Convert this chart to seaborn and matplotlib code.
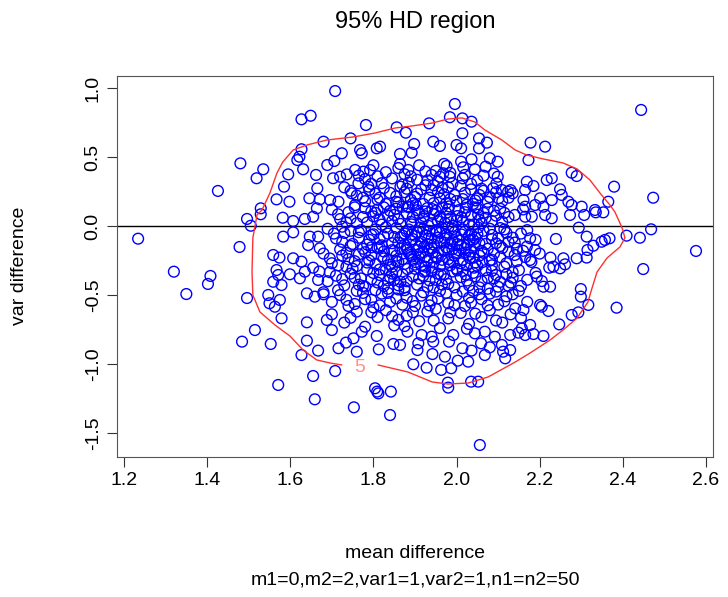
import matplotlib
matplotlib.use("Agg")
import matplotlib.pyplot as plt
import seaborn as sns
import pandas as pd

# ---- data (mean difference, var difference) ----
tails = [(1.480,0.454),(1.426,0.254),(1.496,0.051),(1.234,-0.092),(1.478,-0.152),(1.320,-0.331),
         (1.408,-0.362),(1.402,-0.420),(1.350,-0.493),(1.496,-0.522),(1.484,-0.838),
         (2.444,0.841),(2.473,0.205),(2.468,-0.024),(2.441,-0.085),(2.576,-0.181),(2.449,-0.312)]

upper_left = [(1.708,0.978),(1.627,0.773),(1.649,0.799),(1.782,0.732),(1.745,0.635),(1.680,0.611),
              (1.627,0.556),(1.622,0.502),(1.617,0.478),(1.631,0.411),(1.724,0.527),(1.768,0.551),
              (1.772,0.527),(1.808,0.563),(1.535,0.411),(1.519,0.346),(1.595,0.374),(1.585,0.285),
              (1.662,0.370),(1.689,0.442),(1.706,0.471),(1.665,0.273),(1.703,0.346),(1.720,0.357),
              (1.736,0.374),(1.756,0.406),(1.776,0.394),(1.792,0.406),(1.748,0.237),(1.764,0.309),
              (1.788,0.285),(1.567,0.193),(1.598,0.176),(1.646,0.201),(1.671,0.193),(1.696,0.188),
              (1.716,0.176),(1.756,0.152),(1.529,0.128)]

lower_left = [(1.505,0.002),(1.529,0.085),(1.582,0.060),(1.607,0.036),(1.635,0.051),(1.655,0.067),
              (1.664,0.128),(1.583,-0.077),(1.607,-0.046),(1.647,-0.077),(1.667,-0.077),(1.643,-0.138),
              (1.671,-0.162),(1.559,-0.210),(1.574,-0.229),(1.607,-0.234),(1.627,-0.258),(1.567,-0.319),
              (1.571,-0.355),(1.599,-0.350),(1.623,-0.379),(1.655,-0.302),(1.635,-0.331),(1.667,-0.391),
              (1.559,-0.404),(1.579,-0.428),(1.547,-0.500),(1.550,-0.560),(1.575,-0.536),(1.563,-0.585),
              (1.579,-0.669),(1.640,-0.488),(1.659,-0.512),(1.680,-0.495),(1.640,-0.698),(1.688,-0.681),
              (1.515,-0.754),(1.553,-0.855),(1.640,-0.831),(1.627,-0.935),(1.667,-0.903),(1.571,-1.152),
              (1.655,-1.087),(1.659,-1.256),(1.708,-1.051),(1.753,-1.314),(1.716,-0.886),(1.734,-0.845),
              (1.752,-0.814),(1.760,-0.911),(1.700,-0.754),(1.772,-0.766),(1.808,-0.797),(1.804,-1.176),
              (1.809,-1.200)]

lower_mid = [(1.813,-0.894),(1.848,-0.855),(1.864,-0.862),(1.882,-0.766),(1.908,-0.850),(1.906,-0.899),
             (1.916,-0.790),(1.944,-0.838),(1.940,-0.802),(1.942,-0.928),(1.896,-1.002),(1.928,-1.027),
             (1.963,-1.043),(1.987,-1.031),(1.972,-0.947),(1.979,-1.135),(1.980,-1.171),(2.003,-0.976),
             (1.982,-0.838),(1.992,-0.790),(2.014,-0.886),(2.036,-0.903),(2.028,-0.983),(2.044,-0.778),
             (2.059,-0.850),(2.068,-0.935),(2.080,-0.879),(2.035,-1.128),(2.052,-1.128),(2.056,-1.587),
             (1.842,-1.200),(1.812,-1.213),(1.840,-1.370),(2.112,-0.911),(2.117,-0.959),(2.109,-0.862),
             (2.129,-0.790),(2.092,-0.802),(2.068,-0.766),(2.209,-0.797),(2.185,-0.783),(2.165,-0.790),
             (2.149,-0.773),(2.129,-0.899)]

right_side = [(2.409,-0.070),(2.385,-0.592),(2.368,-0.089),(2.357,-0.101),(2.349,-0.114),(2.329,-0.143),
              (2.313,-0.077),(2.294,-0.012),(2.315,-0.174),(2.313,-0.229),(2.289,-0.234),(2.335,0.099),
              (2.353,0.099),(2.307,0.080),(2.277,0.152),(2.299,-0.457),(2.299,-0.512),(2.317,-0.572),
              (2.293,-0.626),(2.277,-0.645),(2.247,-0.713),(2.205,-0.585),(2.221,-0.616),(2.239,-0.094),
              (2.257,-0.234),(2.226,-0.229),(2.233,-0.295),(2.249,-0.307),(2.261,-0.278),(2.223,-0.302),
              (2.209,-0.440),(2.225,-0.440),(2.193,-0.367),(2.205,-0.399),(2.177,-0.089),(2.169,-0.150),
              (2.189,-0.174),(2.177,-0.246),(2.229,0.056),(2.213,0.080),(2.165,0.067),(2.181,0.067),
              (2.165,0.140),(2.209,0.140),(2.141,-0.597),(2.161,-0.609),(2.201,-0.572),(2.177,-0.717),
              (2.157,-0.742),(2.273,0.080),
              (2.178,0.604),(2.213,0.575),(2.173,0.478),(2.277,0.386),(2.289,0.362),(2.379,0.285),
              (2.365,0.176),(2.217,0.333),(2.229,0.346),(2.249,0.266),(2.253,0.225),(2.169,0.321),
              (2.185,0.290),(2.165,0.261),(2.135,0.237),(2.161,0.188),(2.201,0.201),(2.229,0.188),
              (2.269,0.176),(2.301,0.140),(2.333,0.116),(2.189,0.152)]

upper_mid = [(1.996,0.884),(1.984,0.788),(2.014,0.780),(2.036,0.756),(1.934,0.744),(1.856,0.715),
             (1.878,0.676),(2.014,0.672),(1.944,0.611),(1.960,0.580),(2.000,0.587),(2.011,0.563),
             (2.054,0.635),(2.073,0.604),(2.054,0.563),(1.898,0.594),(1.816,0.575),(1.864,0.522),
             (1.892,0.531),(2.080,0.491),(2.099,0.466),(2.036,0.483),(2.011,0.466),(2.016,0.425),
             (2.044,0.411),(1.976,0.435),(1.968,0.382),(1.960,0.357),(1.984,0.357),(1.864,0.449),
             (1.884,0.406),(2.099,0.357),(2.096,0.309),(2.088,0.273),(2.109,0.261),(2.124,0.249),
             (2.101,0.201)]

core = [(1.80,0.44),(1.83,0.39),(1.86,0.42),(1.89,0.36),(1.91,0.44),(1.93,0.33),(1.95,0.40),(1.99,0.31),
        (2.02,0.37),(2.05,0.33),(2.07,0.43),(1.78,0.34),(1.82,0.31),(1.87,0.30),(1.97,0.45),(2.09,0.38),
        (1.81,0.36),(1.94,0.37),
        (1.73,0.28),(1.76,0.22),(1.79,0.26),(1.81,0.19),(1.84,0.24),(1.86,0.17),(1.88,0.27),(1.90,0.21),
        (1.92,0.16),(1.94,0.26),(1.96,0.20),(1.98,0.28),(2.00,0.18),(2.02,0.24),(2.04,0.16),(2.06,0.27),
        (2.08,0.21),(2.11,0.18),(2.13,0.26),(1.83,0.16),(1.97,0.23),(2.01,0.29),(1.89,0.19),(1.78,0.18),
        (2.05,0.20),
        (1.70,0.12),(1.72,0.05),(1.74,0.10),(1.76,0.02),(1.78,0.13),(1.80,0.07),(1.82,0.01),(1.84,0.11),
        (1.86,0.05),(1.87,0.14),(1.89,0.03),(1.91,0.09),(1.93,0.13),(1.94,0.02),(1.96,0.07),(1.98,0.12),
        (2.00,0.04),(2.02,0.10),(2.03,0.01),(2.05,0.13),(2.07,0.06),(2.09,0.11),(2.11,0.03),(2.14,0.08),
        (2.16,0.12),(1.88,0.09),(1.95,0.11),(1.99,0.00),(2.06,0.02),(1.81,0.12),(1.92,0.05),(1.85,0.08),
        (1.69,-0.02),(1.71,-0.09),(1.73,-0.05),(1.75,-0.13),(1.77,-0.03),(1.79,-0.10),(1.80,-0.06),
        (1.82,-0.14),(1.83,-0.01),(1.85,-0.08),(1.86,-0.12),(1.88,-0.04),(1.89,-0.11),(1.90,-0.07),
        (1.92,-0.02),(1.93,-0.13),(1.94,-0.09),(1.96,-0.05),(1.97,-0.12),(1.98,-0.01),(2.00,-0.08),
        (2.01,-0.14),(2.02,-0.04),(2.04,-0.10),(2.05,-0.06),(2.07,-0.13),(2.08,-0.02),(2.10,-0.09),
        (2.12,-0.05),(2.14,-0.12),(2.17,-0.03),(2.19,-0.10),(1.87,-0.07),(1.91,-0.15),(1.95,-0.03),
        (1.99,-0.11),(2.03,-0.07),
        (1.68,-0.20),(1.70,-0.27),(1.72,-0.17),(1.74,-0.24),(1.76,-0.29),(1.78,-0.19),(1.79,-0.25),
        (1.81,-0.16),(1.82,-0.22),(1.84,-0.28),(1.85,-0.18),(1.87,-0.24),(1.88,-0.16),(1.89,-0.21),
        (1.90,-0.28),(1.92,-0.19),(1.93,-0.25),(1.94,-0.16),(1.95,-0.22),(1.96,-0.29),(1.97,-0.18),
        (1.98,-0.24),(2.00,-0.20),(2.01,-0.27),(2.02,-0.16),(2.04,-0.23),(2.05,-0.29),(2.06,-0.18),
        (2.08,-0.25),(2.09,-0.20),(2.11,-0.16),(2.12,-0.27),(2.14,-0.21),(2.16,-0.18),(2.18,-0.26),
        (2.20,-0.20),(1.86,-0.26),(1.91,-0.23),(1.99,-0.17),(2.03,-0.21),
        (1.67,-0.33),(1.69,-0.40),(1.71,-0.36),(1.73,-0.43),(1.75,-0.31),(1.77,-0.38),(1.78,-0.44),
        (1.80,-0.34),(1.81,-0.41),(1.83,-0.32),(1.84,-0.37),(1.86,-0.43),(1.87,-0.35),(1.88,-0.40),
        (1.90,-0.31),(1.91,-0.38),(1.93,-0.44),(1.94,-0.33),(1.95,-0.39),(1.97,-0.35),(1.98,-0.42),
        (2.00,-0.31),(2.01,-0.37),(2.03,-0.43),(2.04,-0.34),(2.06,-0.40),(2.07,-0.32),(2.09,-0.38),
        (2.10,-0.44),(2.12,-0.35),(2.13,-0.41),(2.15,-0.32),(2.17,-0.39),(2.19,-0.34),(1.92,-0.36),
        (1.85,-0.39),(1.99,-0.33),
        (1.68,-0.48),(1.70,-0.55),(1.72,-0.50),(1.74,-0.58),(1.76,-0.47),(1.78,-0.53),(1.80,-0.59),
        (1.82,-0.49),(1.84,-0.55),(1.86,-0.46),(1.88,-0.52),(1.90,-0.58),(1.92,-0.48),(1.94,-0.54),
        (1.96,-0.47),(1.98,-0.56),(2.00,-0.50),(2.02,-0.58),(2.04,-0.47),(2.06,-0.53),(2.08,-0.49),
        (2.10,-0.57),(2.12,-0.51),(2.15,-0.47),(2.17,-0.55),(1.87,-0.57),(1.95,-0.60),(2.03,-0.52),
        (1.70,-0.64),(1.73,-0.70),(1.76,-0.62),(1.78,-0.73),(1.81,-0.66),(1.83,-0.61),(1.85,-0.72),
        (1.88,-0.65),(1.91,-0.69),(1.93,-0.62),(1.96,-0.74),(1.98,-0.67),(2.01,-0.63),(2.03,-0.71),
        (2.06,-0.66),(2.08,-0.61),(2.11,-0.70),(2.13,-0.64),(1.86,-0.68)]

core_fill = [(1.845,0.345),(1.875,0.375),(1.905,0.335),(1.925,0.395),(1.955,0.325),(1.985,0.385),
             (2.015,0.345),(2.035,0.305),(2.065,0.365),(1.765,0.365),(1.795,0.305),
             (1.745,0.255),(1.775,0.205),(1.805,0.235),(1.825,0.275),(1.855,0.215),(1.875,0.245),
             (1.895,0.165),(1.915,0.265),(1.935,0.205),(1.955,0.245),(1.975,0.165),(1.995,0.225),
             (2.015,0.195),(2.035,0.265),(2.055,0.225),(2.075,0.175),(2.095,0.245),(2.125,0.205),
             (1.865,0.285),(1.945,0.295),(2.025,0.155),
             (1.715,0.085),(1.735,0.025),(1.755,0.135),(1.775,0.065),(1.795,0.105),(1.815,0.045),
             (1.835,0.075),(1.855,0.125),(1.865,0.015),(1.885,0.135),(1.895,0.065),(1.915,0.025),
             (1.925,0.105),(1.945,0.085),(1.955,0.035),(1.965,0.135),(1.985,0.055),(2.005,0.115),
             (2.015,0.035),(2.035,0.075),(2.045,0.135),(2.065,0.095),(2.085,0.035),(2.105,0.125),
             (2.125,0.065),(1.825,0.135),(1.905,0.115),(1.975,0.095),(2.055,0.045),(2.095,0.075),
             (1.705,-0.055),(1.725,-0.115),(1.745,-0.035),(1.765,-0.085),(1.785,-0.135),(1.805,-0.025),
             (1.815,-0.095),(1.835,-0.055),(1.845,-0.125),(1.855,-0.015),(1.865,-0.085),(1.875,-0.135),
             (1.885,-0.025),(1.895,-0.095),(1.905,-0.045),(1.915,-0.115),(1.925,-0.065),(1.935,-0.035),
             (1.945,-0.135),(1.955,-0.085),(1.965,-0.015),(1.975,-0.065),(1.985,-0.125),(1.995,-0.045),
             (2.005,-0.105),(2.015,-0.025),(2.025,-0.135),(2.035,-0.055),(2.045,-0.085),(2.055,-0.125),
             (2.065,-0.035),(2.085,-0.065),(2.095,-0.125),(2.115,-0.025),(2.135,-0.085),(2.155,-0.055),
             (1.795,-0.065),(1.875,-0.055),
             (1.695,-0.235),(1.715,-0.285),(1.735,-0.195),(1.755,-0.255),(1.775,-0.165),(1.795,-0.215),
             (1.805,-0.275),(1.825,-0.185),(1.835,-0.245),(1.845,-0.295),(1.855,-0.215),(1.865,-0.165),
             (1.875,-0.275),(1.885,-0.195),(1.895,-0.245),(1.905,-0.175),(1.915,-0.285),(1.925,-0.225),
             (1.935,-0.175),(1.945,-0.265),(1.955,-0.195),(1.965,-0.245),(1.975,-0.155),(1.985,-0.285),
             (1.995,-0.215),(2.005,-0.175),(2.015,-0.245),(2.025,-0.285),(2.035,-0.185),(2.045,-0.265),
             (2.055,-0.215),(2.075,-0.165),(2.085,-0.285),(2.105,-0.225),(2.125,-0.185),(2.145,-0.255),
             (2.165,-0.225),(1.815,-0.155),(1.925,-0.295),
             (1.695,-0.335),(1.725,-0.385),(1.745,-0.345),(1.765,-0.425),(1.785,-0.315),(1.795,-0.385),
             (1.815,-0.355),(1.825,-0.435),(1.835,-0.395),(1.855,-0.335),(1.865,-0.405),(1.875,-0.445),
             (1.895,-0.365),(1.905,-0.425),(1.925,-0.325),(1.935,-0.395),(1.955,-0.345),(1.965,-0.425),
             (1.975,-0.385),(1.995,-0.445),(2.015,-0.325),(2.025,-0.395),(2.045,-0.365),(2.055,-0.445),
             (2.075,-0.375),(2.085,-0.325),(2.105,-0.405),(2.135,-0.375),(2.155,-0.435),(1.945,-0.445),
             (1.715,-0.465),(1.735,-0.535),(1.755,-0.565),(1.775,-0.485),(1.795,-0.535),(1.815,-0.575),
             (1.835,-0.485),(1.855,-0.525),(1.875,-0.465),(1.895,-0.545),(1.915,-0.505),(1.935,-0.575),
             (1.955,-0.525),(1.975,-0.485),(1.995,-0.575),(2.015,-0.475),(2.035,-0.555),(2.055,-0.495),
             (2.075,-0.575),(2.095,-0.475),(2.115,-0.545),(2.135,-0.495),
             (1.745,-0.665),(1.795,-0.625),(1.845,-0.655),(1.895,-0.625),(1.945,-0.685),(1.985,-0.625),
             (2.045,-0.635),(2.095,-0.685),(2.155,-0.665),(1.875,-0.725),(2.025,-0.745)]

core_dense = [(1.882,0.142),(1.902,0.152),(1.922,0.072),(1.942,0.122),(1.962,0.052),(1.982,0.142),
              (2.002,0.072),(2.022,0.132),(2.042,0.012),(1.892,0.012),(1.932,0.002),(1.972,0.022),
              (2.012,0.062),(2.052,0.082),
              (1.882,-0.172),(1.902,-0.132),(1.922,-0.152),(1.942,-0.192),(1.962,-0.112),(1.982,-0.172),
              (2.002,-0.132),(2.022,-0.192),(2.042,-0.142),(1.892,-0.062),(1.912,-0.012),(1.932,-0.092),
              (1.952,-0.042),(1.972,-0.092),(1.992,-0.022),(2.012,-0.062),(2.032,-0.102),(2.052,-0.012),
              (1.882,-0.312),(1.902,-0.262),(1.922,-0.332),(1.942,-0.302),(1.962,-0.352),(1.982,-0.262),
              (2.002,-0.322),(2.022,-0.352),(2.042,-0.302),(1.892,-0.222),(1.912,-0.202),(1.952,-0.232),
              (1.992,-0.262),(2.032,-0.232),(2.062,-0.262)]

core_sides = [(1.725,-0.215),(1.745,-0.145),(1.735,-0.295),(1.755,-0.375),(1.765,-0.205),(1.785,-0.265),
              (1.775,-0.435),(1.805,-0.465),(1.795,-0.155),(1.815,-0.315),(1.825,-0.235),(1.845,-0.175),
              (1.835,-0.455),(1.855,-0.255),(1.845,-0.345),(1.725,-0.005),(1.745,0.055),(1.765,-0.045),
              (1.785,0.025),(1.805,0.095),(1.825,-0.075),(1.845,0.035),
              (2.065,-0.195),(2.085,-0.245),(2.095,-0.355),(2.115,-0.295),(2.125,-0.435),(2.075,-0.455),
              (2.105,-0.145),(2.125,-0.115),(2.145,-0.165),(2.135,-0.335),(2.085,-0.095),(2.105,-0.015),
              (2.115,0.095),(2.075,0.125),
              (1.905,0.235),(1.925,0.295),(1.985,0.195),(2.045,0.185),(1.855,0.175),(1.815,0.205),
              (1.945,0.165),(2.065,0.255),(1.965,0.275),(1.885,0.315)]

# 95% HD region contour (mean difference, var difference), open at the label gap
contour_x = [1.811,1.883,1.941,1.979,2.028,2.076,2.141,2.177,2.225,2.256,2.290,2.316,2.326,2.338,
             2.362,2.393,2.405,2.400,2.393,2.381,2.369,2.345,2.321,2.290,2.256,2.208,2.169,2.141,
             2.109,2.068,2.044,2.013,1.979,1.941,1.893,1.852,1.804,1.751,1.688,1.640,1.607,1.582,
             1.568,1.551,1.532,1.520,1.510,1.508,1.510,1.527,1.563,1.599,1.631,1.664,1.696,1.724]
contour_y = [-1.007,-1.058,-1.130,-1.145,-1.138,-1.094,-0.986,-0.920,-0.826,-0.754,-0.667,-0.551,
             -0.449,-0.333,-0.232,-0.152,-0.087,-0.029,0.022,0.101,0.152,0.239,0.333,0.413,0.457,
             0.486,0.514,0.551,0.623,0.696,0.754,0.783,0.775,0.746,0.725,0.710,0.674,0.645,0.623,
             0.587,0.551,0.464,0.384,0.239,0.116,0.080,-0.087,-0.333,-0.500,-0.623,-0.717,-0.797,
             -0.899,-0.971,-0.993,-1.007]
contour_label = "5"
contour_label_pos = (1.768, -1.022)

x_ticks = [1.2, 1.4, 1.6, 1.8, 2.0, 2.2, 2.4, 2.6]
y_ticks = [-1.5, -1.0, -0.5, 0.0, 0.5, 1.0]

title = "95% HD region"
x_label = "mean difference"
y_label = "var difference"
subtitle = "m1=0,m2=2,var1=1,var2=1,n1=n2=50"

# ---- build ----
all_pts = (tails + upper_left + lower_left + lower_mid + right_side + upper_mid
           + core + core_fill + core_dense + core_sides)
df = pd.DataFrame(all_pts, columns=["mean_diff", "var_diff"])
cdf = pd.DataFrame({"x": contour_x, "y": contour_y})

sns.set_theme(style="white")
plt.rcParams["font.family"] = ["Liberation Sans", "DejaVu Sans"]
plt.rcParams["text.color"] = "black"
plt.rcParams["xtick.color"] = "black"
plt.rcParams["ytick.color"] = "black"

fig = plt.figure(figsize=(7.28, 5.97), dpi=100)
ax = fig.add_axes([117/728, 1-457/597, 596/728, 381/597])

sns.scatterplot(data=df, x="mean_diff", y="var_diff", ax=ax, marker="o",
                facecolor="none", edgecolor="#0000ff", s=60, linewidth=1.0, zorder=3)
sns.lineplot(data=cdf, x="x", y="y", ax=ax, sort=False, estimator=None,
             color="#ff3030", linewidth=1.0, zorder=4)
ax.axhline(0, color="black", linewidth=1.0, zorder=2)
ax.text(contour_label_pos[0], contour_label_pos[1], contour_label, color="#ff9090",
        fontsize=14, ha="center", va="center", zorder=5)

ax.set_xlim(1.1832, 2.6169)
ax.set_ylim(-1.674, 1.087)
ax.set_xticks(x_ticks)
ax.set_yticks(y_ticks)
ax.set_xticklabels([f"{v:.1f}" for v in x_ticks], fontsize=14, color="black")
ax.set_yticklabels([f"{v:.1f}" for v in y_ticks], fontsize=14, rotation=90, va="center", color="black")
ax.tick_params(axis="both", which="major", direction="out", length=7, width=0.8,
               color="#333333", bottom=True, left=True, pad=4)
for s in ax.spines.values():
    s.set_color("#555555")
    s.set_linewidth(0.8)
ax.set_xlabel("")
ax.set_ylabel("")

fig.text((117+713)/2/728, 1-22/597, title, ha="center", va="center", fontsize=17, color="black")
fig.text((117+713)/2/728, 1-553/597, x_label, ha="center", va="center", fontsize=14, color="black")
fig.text((117+713)/2/728, 1-580/597, subtitle, ha="center", va="center", fontsize=14, color="black")
fig.text(20/728, 1-266/597, y_label, ha="center", va="center", rotation=90, fontsize=14, color="black")

fig.savefig("out.png", dpi=100)
